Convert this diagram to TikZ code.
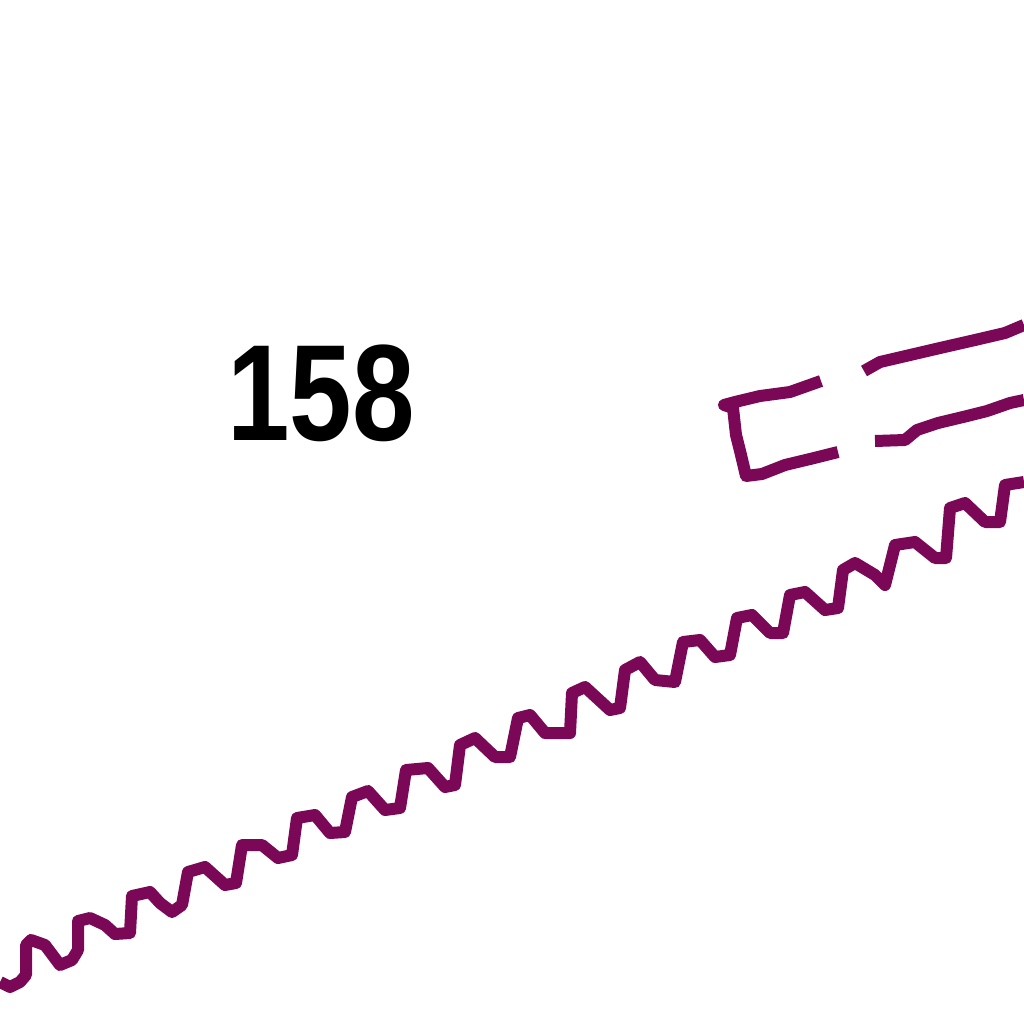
\documentclass[tikz,border=0pt]{standalone}
\usepackage{fontspec}
\setmainfont{Liberation Sans}
\definecolor{plum}{HTML}{7B0757}
\tikzset{roughline/.style={draw=plum,line width=12pt,line join=round,line cap=butt}}
\begin{document}
\begin{tikzpicture}[x=1pt,y=-1pt]
\useasboundingbox[fill=white] (0,0) rectangle (1024,1024);
\node[inner sep=0pt,anchor=center,xscale=0.82,font=\fontsize{137}{137}\selectfont\bfseries] (num) at (321,393) {158};
\draw[roughline] (821,381)--(790,392)--(760,396)--(735,402)--(724,405)--(733,408)--(736,435)--(741,455)--(746,476)--(762,474)--(785,465)--(810,459)--(838,452);
\draw[roughline] (864,371)--(880,362)--(910,355)--(940,348)--(975,340)--(1005,333)--(1024,325);
\draw[roughline] (875,441)--(905,440)--(917,430)--(938,423)--(963,417)--(987,411)--(1010,403)--(1024,400);
\draw[roughline] (0,982)--(10,987)--(20,982)--(26,975)--(26,945)--(31,940)--(45,945)--(60,965)--(72,960)--(78,950)--(78,921)--(90,918)--(105,925)--(115,934)--(130,933)--(132,896)--(150,892)--(160,903)--(172,912)--(182,905)--(188,872)--(205,867)--(225,885)--(236,883)--(242,845)--(262,845)--(278,858)--(292,855)--(297,818)--(315,815)--(330,833)--(345,832)--(352,797)--(368,791)--(385,810)--(400,808)--(406,770)--(428,768)--(445,787)--(455,785)--(460,745)--(475,738)--(495,757)--(510,757)--(518,718)--(530,715)--(545,733)--(570,733)--(572,693)--(585,687)--(610,710)--(620,708)--(625,670)--(640,662)--(655,680)--(675,682)--(683,642)--(700,640)--(715,657)--(730,655)--(737,618)--(752,615)--(770,633)--(783,633)--(790,595)--(805,592)--(825,610)--(838,608)--(843,570)--(855,563)--(875,575)--(885,585)--(895,545)--(915,542)--(935,558)--(946,558)--(950,508)--(965,503)--(985,522)--(1000,522)--(1005,485)--(1024,482);
\end{tikzpicture}
\end{document}
